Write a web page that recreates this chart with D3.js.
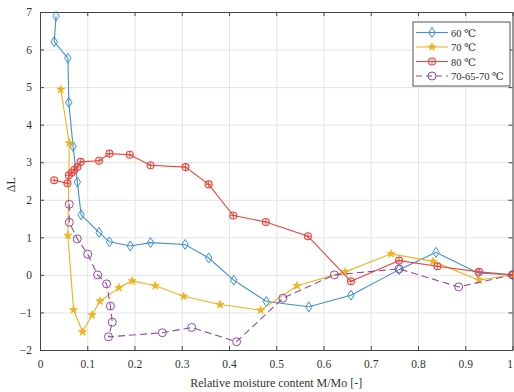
<!DOCTYPE html>
<html>
<head>
<meta charset="utf-8">
<script src="https://cdn.jsdelivr.net/npm/d3@7"></script>
<style>
body { margin: 0; background: #fff; }
text { font-family: "Liberation Serif", "DejaVu Serif", serif; fill: #333; }
.grid line { stroke: #e3e3e3; }
.grid path { display: none; }
</style>
</head>
<body>
<svg id="chart"></svg>
<script>
var w = 514, h = 392;
var margin = {left: 40, right: 1, top: 12, bottom: 42};

// data
var x60 = [0.034, 0.030, 0.059, 0.061, 0.070, 0.079, 0.087, 0.125, 0.147, 0.191, 0.234, 0.307, 0.357, 0.410, 0.479, 0.569, 0.658, 0.760, 0.838, 0.927, 1.0];
var y60 = [6.89, 6.21, 5.77, 4.59, 3.42, 2.47, 1.60, 1.13, 0.88, 0.77, 0.86, 0.81, 0.45, -0.14, -0.71, -0.85, -0.54, 0.14, 0.60, 0.05, 0];

var x70 = [0.044, 0.062, 0.059, 0.071, 0.090, 0.110, 0.127, 0.167, 0.195, 0.244, 0.304, 0.381, 0.467, 0.544, 0.646, 0.743, 0.832, 0.929, 1.0];
var y70 = [4.94, 3.51, 1.05, -0.93, -1.52, -1.07, -0.70, -0.34, -0.16, -0.29, -0.57, -0.79, -0.94, -0.29, 0.08, 0.56, 0.36, -0.14, 0];

var x80 = [0.030, 0.058, 0.061, 0.067, 0.073, 0.079, 0.086, 0.125, 0.147, 0.190, 0.234, 0.308, 0.357, 0.409, 0.478, 0.567, 0.658, 0.760, 0.841, 0.929, 1.0];
var y80 = [2.52, 2.44, 2.65, 2.72, 2.80, 2.87, 3.01, 3.04, 3.23, 3.20, 2.92, 2.87, 2.41, 1.58, 1.41, 1.03, -0.17, 0.38, 0.23, 0.08, 0];

var xMix = [0.062, 0.062, 0.079, 0.101, 0.122, 0.141, 0.149, 0.153, 0.145, 0.259, 0.321, 0.416, 0.514, 0.623, 0.760, 0.886, 1.0];
var yMix = [1.88, 1.40, 0.96, 0.55, 0.0, -0.24, -0.83, -1.26, -1.65, -1.54, -1.40, -1.78, -0.62, 0.0, 0.16, -0.32, 0];

var seriesNames = ["60 \u2103", "70 \u2103", "80 \u2103", "70-65-70 \u2103"];
var xTicks = [0, 0.1, 0.2, 0.3, 0.4, 0.5, 0.6, 0.7, 0.8, 0.9, 1];
var yTicks = [-2, -1, 0, 1, 2, 3, 4, 5, 6, 7];

var colors = ["#3d8fd1", "#efb21f", "#e8453c", "#8e4aa8"];
var markers = ["diamond", "star", "circlestar", "circle"];
var dashes = [null, null, null, "7,4"];

var series = [
    {name: seriesNames[0], xs: x60, ys: y60},
    {name: seriesNames[1], xs: x70, ys: y70},
    {name: seriesNames[2], xs: x80, ys: y80},
    {name: seriesNames[3], xs: xMix, ys: yMix}
];

var xScale = d3.scaleLinear().domain([0, 1]).range([margin.left, w - margin.right - 0.5]);
var yScale = d3.scaleLinear().domain([-2, 7]).range([h - margin.bottom, margin.top]);

var svg = d3.select("#chart").attr("width", w).attr("height", h);

// grid
svg.append("g").attr("class", "grid")
    .attr("transform", "translate(0," + (h - margin.bottom) + ")")
    .call(d3.axisBottom(xScale).tickValues(xTicks).tickSize(-(h - margin.bottom - margin.top)).tickFormat(""));
svg.append("g").attr("class", "grid")
    .attr("transform", "translate(" + margin.left + ",0)")
    .call(d3.axisLeft(yScale).tickValues(yTicks).tickSize(-(xScale(1) - margin.left)).tickFormat(""));

// axes (ticks inward, box on)
function styleAxis(g) {
    g.select(".domain").attr("stroke", "#444");
    g.selectAll(".tick line").attr("stroke", "#444");
    g.selectAll(".tick text").attr("font-size", 11.5).attr("font-family", "Liberation Serif").attr("fill", "#333");
}
var xAxisG = svg.append("g").attr("transform", "translate(0," + (h - margin.bottom) + ")")
    .call(d3.axisBottom(xScale).tickValues(xTicks).tickSizeInner(-4).tickSizeOuter(0).tickPadding(10)
        .tickFormat(function(d) { return d === 0 || d === 1 ? d : d3.format(".1f")(d); }))
    .call(styleAxis);
// keep the last label inside the window
xAxisG.selectAll(".tick text").filter(function(d) { return d === 1; })
    .attr("text-anchor", "end").attr("dx", 0);

svg.append("g").attr("transform", "translate(0," + margin.top + ")")
    .call(d3.axisTop(xScale).tickValues(xTicks).tickSizeInner(-4).tickSizeOuter(0).tickFormat(""))
    .call(styleAxis);
svg.append("g").attr("transform", "translate(" + margin.left + ",0)")
    .call(d3.axisLeft(yScale).tickValues(yTicks).tickSizeInner(-4).tickSizeOuter(0).tickPadding(8))
    .call(styleAxis);
svg.append("g").attr("transform", "translate(" + xScale(1) + ",0)")
    .call(d3.axisRight(yScale).tickValues(yTicks).tickSizeInner(-4).tickSizeOuter(0).tickFormat(""))
    .call(styleAxis);

// axis labels
svg.append("text")
    .attr("x", (margin.left + xScale(1)) / 2)
    .attr("y", 387)
    .attr("text-anchor", "middle")
    .attr("font-size", 12)
    .text("Relative moisture content M/Mo [-]");
svg.append("text")
    .attr("transform", "translate(15," + yScale(2.4) + ") rotate(-90)")
    .attr("text-anchor", "middle")
    .attr("font-size", 12)
    .text("\u0394L");

// marker drawing
function drawMarker(g, type, color) {
    if (type === "diamond") {
        g.append("path").attr("d", "M0,-5L3.2,0L0,5L-3.2,0Z")
            .attr("fill", "none").attr("stroke", color).attr("stroke-width", 1);
    } else if (type === "star") {
        g.append("path").attr("d", d3.symbol(d3.symbolStar, 20)())
            .attr("fill", color).attr("stroke", color).attr("stroke-width", 0.8);
    } else if (type === "circlestar") {
        g.append("circle").attr("r", 3.5).attr("fill", "none").attr("stroke", color).attr("stroke-width", 1.1);
        g.append("path").attr("d", d3.symbol(d3.symbolTimes, 14)()).attr("fill", color);
        g.append("path").attr("d", "M-3,0H3M0,-3V3").attr("stroke", color).attr("stroke-width", 0.9);
    } else {
        g.append("circle").attr("r", 4).attr("fill", "none").attr("stroke", color).attr("stroke-width", 1);
    }
}

var line = d3.line()
    .x(function(d) { return xScale(d[0]); })
    .y(function(d) { return yScale(d[1]); });

series.forEach(function(s, i) {
    var pts = s.xs.map(function(x, j) { return [x, s.ys[j]]; });
    svg.append("path")
        .datum(pts)
        .attr("d", line)
        .attr("fill", "none")
        .attr("stroke", colors[i])
        .attr("stroke-width", 1.1)
        .attr("stroke-dasharray", dashes[i]);
    svg.append("g").selectAll("g")
        .data(pts)
        .enter()
        .append("g")
        .attr("transform", function(d) { return "translate(" + xScale(d[0]) + "," + yScale(d[1]) + ")"; })
        .each(function() { drawMarker(d3.select(this), markers[i], colors[i]); });
});

// legend
var legend = svg.append("g").attr("transform", "translate(413,22)");
legend.append("rect")
    .attr("width", 97).attr("height", 64)
    .attr("fill", "#fff").attr("stroke", "#555").attr("stroke-width", 1);
series.forEach(function(s, i) {
    var yy = 10.5 + i * 14.5;
    legend.append("line")
        .attr("x1", 3).attr("x2", 35).attr("y1", yy).attr("y2", yy)
        .attr("stroke", colors[i]).attr("stroke-width", 1.1)
        .attr("stroke-dasharray", dashes[i] ? "6,4" : null);
    drawMarker(legend.append("g").attr("transform", "translate(19," + yy + ")"), markers[i], colors[i]);
    legend.append("text")
        .attr("x", 38).attr("y", yy + 4)
        .attr("font-size", 10.5)
        .text(s.name);
});
</script>
</body>
</html>
